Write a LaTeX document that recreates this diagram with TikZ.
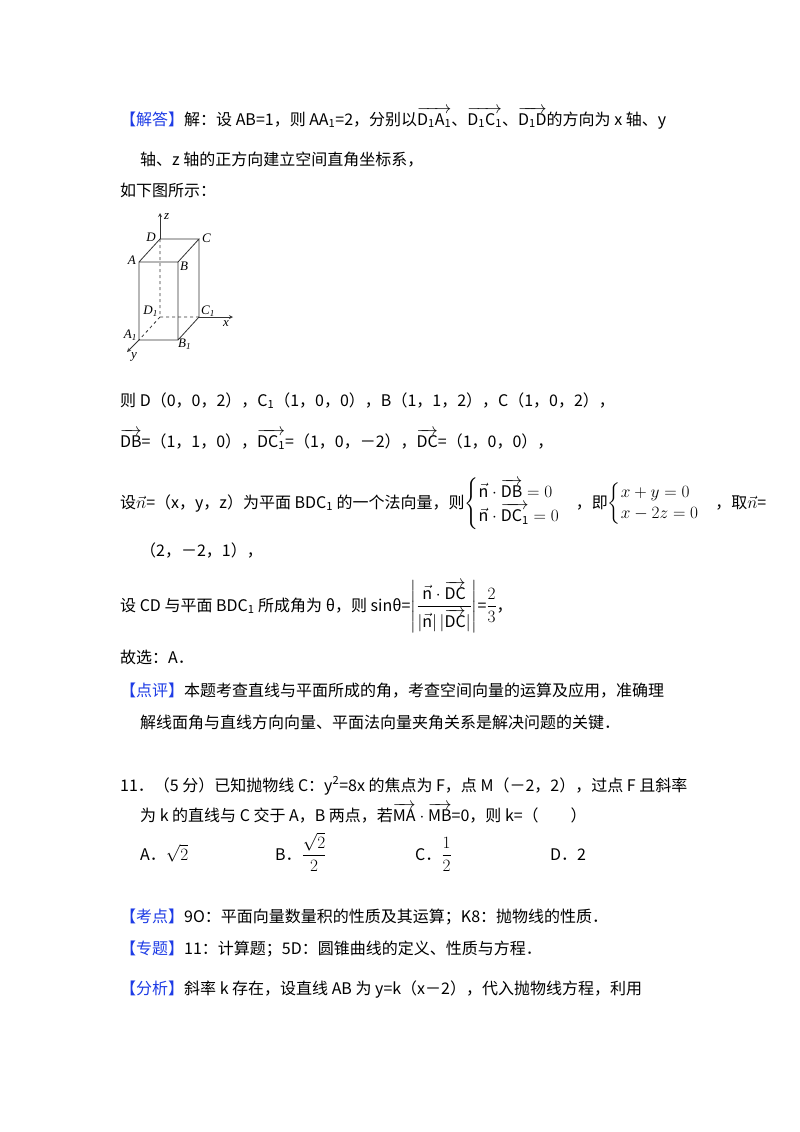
\documentclass[tikz,border=0pt]{standalone}
\usepackage{fontspec}
\usepackage{amsmath}
\setmainfont{Noto Sans CJK SC}
\newfontfamily\figf{Liberation Serif}
\definecolor{tagblue}{RGB}{30,60,230}
\newcommand{\tg}[1]{\textcolor{tagblue}{#1}}
\newcommand{\vc}[1]{\overrightarrow{\mathrm{#1}}}
\begin{document}
\begin{tikzpicture}[x=1pt,y=-1pt,
  txt/.style={anchor=base west,inner sep=0pt,font=\fontsize{16}{18}\selectfont},
  lab/.style={inner sep=1pt,font=\figf\itshape\fontsize{13}{14}\selectfont},
  edge/.style={draw=black!80,line width=0.8pt},
  hid/.style={edge,dashed},
  ax/.style={edge,->,>=stealth}]
\useasboundingbox (0,0) rectangle (800,1132);
\fill[white] (0,0) rectangle (800,1132);
% text lines
\node[txt] (l1) at (120,125) {\tg{【解答】}解：设 AB=1，则 AA\textsubscript{1}=2，分别以$\vc{D_1A_1}$、$\vc{D_1C_1}$、$\vc{D_1D}$的方向为 x 轴、y};
\node[txt] (l2) at (140,165) {轴、z 轴的正方向建立空间直角坐标系，};
\node[txt] (l3) at (120,196) {如下图所示：};
% figure
\coordinate (D) at (160,239); \coordinate (C) at (199,239);
\coordinate (A) at (139,262); \coordinate (B) at (178,262);
\coordinate (D1) at (160,317); \coordinate (C1) at (199,317);
\coordinate (A1) at (139,340); \coordinate (B1) at (178,340);
\coordinate (zt) at (160,213); \coordinate (xt) at (233,317); \coordinate (yt) at (127,352);
\draw[edge] (A)--(B)--(C)--(D)--(A) (A)--(A1)--(B1)--(B) (C)--(C1)--(B1);
\draw[hid] (D)--(D1) (D1)--(C1) (D1)--(A1);
\draw[ax] (D)--(zt);
\draw[ax] (C1)--(xt);
\draw[ax] (A1)--(yt);
\node[lab,anchor=west] at (163,217) {z};
\node[lab,anchor=east] at (157,237) {D};
\node[lab,anchor=west] at (201,238) {C};
\node[lab,anchor=east] at (137,260) {A};
\node[lab,anchor=west] at (179,266) {B};
\node[lab,anchor=east] at (159,311) {D\textsubscript{1}};
\node[lab,anchor=west] at (200,311) {C\textsubscript{1}};
\node[lab,anchor=north] at (226,319) {x};
\node[lab,anchor=east] at (138,335) {A\textsubscript{1}};
\node[lab,anchor=west] at (177,344) {B\textsubscript{1}};
\node[lab] at (134,357) {y};
% coordinates
\node[txt] (l4) at (120,406) {则 D（0，0，2），C\textsubscript{1}（1，0，0），B（1，1，2），C（1，0，2），};
\node[txt] (l5) at (120,447) {$\vc{DB}$=（1，1，0），$\vc{DC_1}$=（1，0，－2），$\vc{DC}$=（1，0，0），};
\node[txt] (l6) at (120,508) {设$\vec{n}$=（x，y，z）为平面 BDC\textsubscript{1} 的一个法向量，则$\begin{cases}\vec{\mathrm{n}}\cdot\vc{DB}=0\\ \vec{\mathrm{n}}\cdot\vc{DC_1}=0\end{cases}$，即$\begin{cases}x+y=0\\ x-2z=0\end{cases}$，取$\vec{n}$=};
\node[txt] (l7) at (140,556) {（2，－2，1），};
\node[txt] (l8) at (120,611) {设 CD 与平面 BDC\textsubscript{1} 所成角为 θ，则 sinθ=$\left|\dfrac{\vec{\mathrm{n}}\cdot\vc{DC}}{|\vec{\mathrm{n}}|\,|\vc{DC}|}\right|$=$\dfrac{2}{3}$，};
\node[txt] (l9) at (120,663) {故选：A．};
\node[txt] (l10) at (120,696) {\tg{【点评】}本题考查直线与平面所成的角，考查空间向量的运算及应用，准确理};
\node[txt] (l11) at (140,728) {解线面角与直线方向向量、平面法向量夹角关系是解决问题的关键．};
\node[txt] (l12) at (120,791) {11．（5 分）已知抛物线 C：y\textsuperscript{2}=8x 的焦点为 F，点 M（－2，2），过点 F 且斜率};
\node[txt] (l13) at (140,821) {为 k 的直线与 C 交于 A，B 两点，若$\vc{MA}\cdot\vc{MB}$=0，则 k=（\qquad）};
\node[txt] (oA) at (140,860) {A．$\sqrt{2}$};
\node[txt] (oB) at (275,860) {B．$\dfrac{\sqrt{2}}{2}$};
\node[txt] (oC) at (415,860) {C．$\dfrac{1}{2}$};
\node[txt] (oD) at (550,860) {D．2};
\node[txt] (l14) at (120,922) {\tg{【考点】}9O：平面向量数量积的性质及其运算；K8：抛物线的性质．};
\node[txt] (l15) at (120,954) {\tg{【专题】}11：计算题；5D：圆锥曲线的定义、性质与方程．};
\node[txt] (l16) at (120,994) {\tg{【分析】}斜率 k 存在，设直线 AB 为 y=k（x－2），代入抛物线方程，利用};
\end{tikzpicture}
\end{document}
